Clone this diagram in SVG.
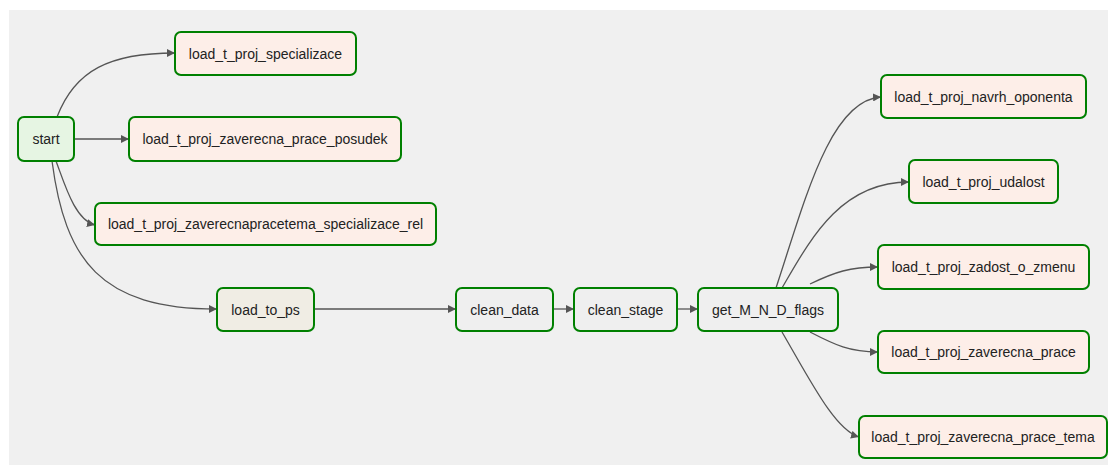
<svg xmlns="http://www.w3.org/2000/svg" width="1108" height="465" viewBox="0 0 1108 465">
  <style>
    .node rect { stroke: #008000; stroke-width: 2; }
    .node text { font-family: "Liberation Sans", Arial, sans-serif; font-size: 14px; fill: #222; text-anchor: middle; }
    .task rect { fill: #fdeee8; }
    .start rect { fill: #e6f5e3; }
    .ps rect { fill: #f0ede4; }
    .plain rect { fill: #efefef; }
    .edges path { fill: none; stroke: #555; stroke-width: 1.3; marker-end: url(#arrow); }
  </style>
  <defs>
    <marker id="arrow" viewBox="0 0 10 10" refX="10" refY="5" markerWidth="8" markerHeight="8" markerUnits="userSpaceOnUse" orient="auto">
      <path d="M0,0 L10,5 L0,10 z" fill="#555"/>
    </marker>
  </defs>

  <!-- canvas -->
  <rect x="9" y="10" width="1099" height="455" fill="#f0f0f0"/>

  <!-- connectors -->
  <g class="edges">
    <path d="M57,117 C75,70 110,53 175,53"/>
    <path d="M74,139 L129,139"/>
    <path d="M56,161 C65,185 75,220 95,225"/>
    <path d="M52,161 C65,260 100,309 217,309"/>
    <path d="M314,309 L456,309"/>
    <path d="M553,309 L574,309"/>
    <path d="M677,309 L698,309"/>
    <path d="M776,288 C805,200 830,100 881,97"/>
    <path d="M782,288 C810,240 840,182 909,182"/>
    <path d="M810,284 C835,272 850,267 878,267"/>
    <path d="M810,332 C835,345 850,352 878,352"/>
    <path d="M782,332 C810,380 835,430 859,437"/>
  </g>

  <!-- nodes -->
  <g id="start" class="node start">
    <rect x="18" y="117" width="56" height="44" rx="6"/>
    <text x="46" y="144">start</text>
  </g>
  <g id="load_t_proj_specializace" class="node task">
    <rect x="175" y="32" width="181" height="43" rx="6"/>
    <text x="265.5" y="58.5">load_t_proj_specializace</text>
  </g>
  <g id="load_t_proj_zaverecna_prace_posudek" class="node task">
    <rect x="129" y="117" width="272" height="44" rx="6"/>
    <text x="265" y="144">load_t_proj_zaverecna_prace_posudek</text>
  </g>
  <g id="load_t_proj_zaverecnapracetema_specializace_rel" class="node task">
    <rect x="95" y="203" width="341" height="42" rx="6"/>
    <text x="265.5" y="229">load_t_proj_zaverecnapracetema_specializace_rel</text>
  </g>
  <g id="load_to_ps" class="node ps">
    <rect x="217" y="288" width="97" height="43" rx="6"/>
    <text x="265.5" y="314.5">load_to_ps</text>
  </g>
  <g id="clean_data" class="node plain">
    <rect x="456" y="288" width="97" height="43" rx="6"/>
    <text x="504.5" y="314.5">clean_data</text>
  </g>
  <g id="clean_stage" class="node plain">
    <rect x="574" y="288" width="103" height="43" rx="6"/>
    <text x="625.5" y="314.5">clean_stage</text>
  </g>
  <g id="get_M_N_D_flags" class="node plain">
    <rect x="698" y="288" width="140" height="43" rx="6"/>
    <text x="768" y="314.5">get_M_N_D_flags</text>
  </g>
  <g id="load_t_proj_navrh_oponenta" class="node task">
    <rect x="881" y="75" width="205" height="43" rx="6"/>
    <text x="983.5" y="101.5">load_t_proj_navrh_oponenta</text>
  </g>
  <g id="load_t_proj_udalost" class="node task">
    <rect x="909" y="160" width="149" height="43" rx="6"/>
    <text x="983.5" y="186.5">load_t_proj_udalost</text>
  </g>
  <g id="load_t_proj_zadost_o_zmenu" class="node task">
    <rect x="878" y="245" width="211" height="44" rx="6"/>
    <text x="983.5" y="272">load_t_proj_zadost_o_zmenu</text>
  </g>
  <g id="load_t_proj_zaverecna_prace" class="node task">
    <rect x="878" y="331" width="211" height="42" rx="6"/>
    <text x="983.5" y="357">load_t_proj_zaverecna_prace</text>
  </g>
  <g id="load_t_proj_zaverecna_prace_tema" class="node task">
    <rect x="859" y="416" width="248" height="42" rx="6"/>
    <text x="983" y="442">load_t_proj_zaverecna_prace_tema</text>
  </g>
</svg>
